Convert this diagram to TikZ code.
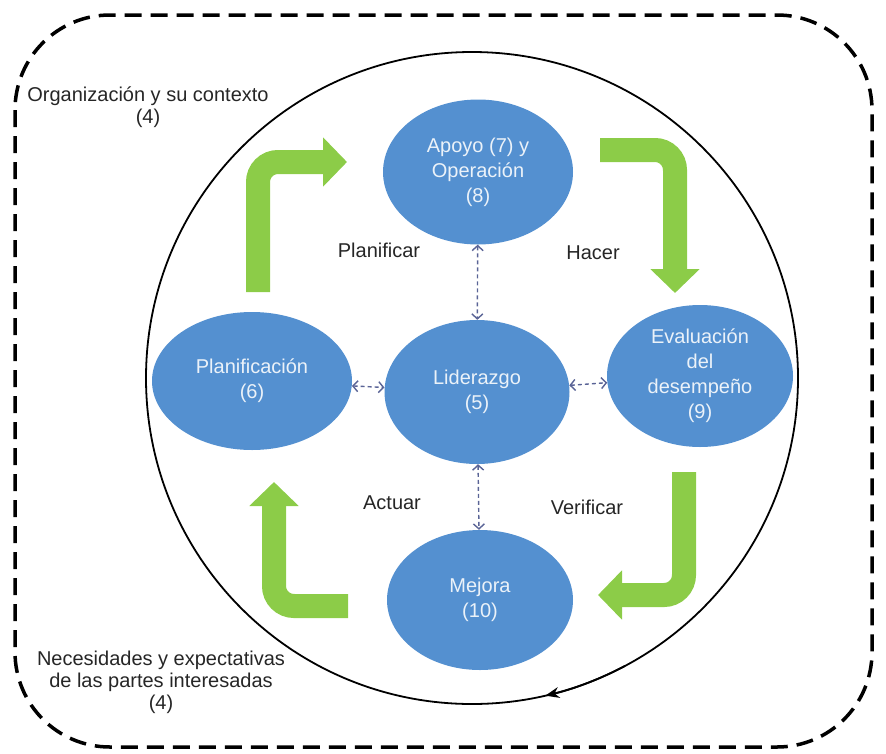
\documentclass[tikz,border=0pt]{standalone}
\usepackage{fontspec}
\setmainfont{Liberation Sans}
\usetikzlibrary{arrows.meta,shapes.geometric}
\definecolor{bubblue}{RGB}{84,144,208}
\definecolor{leafgreen}{RGB}{140,204,72}
\definecolor{linkgray}{RGB}{90,100,150}
\tikzset{
  bubble/.style={ellipse,fill=bubblue,text=white!88!bubblue,inner sep=0pt,align=center,
    font=\fontsize{20}{25}\selectfont},
  bigarrow/.style={draw=leafgreen,line width=24pt,rounded corners=20pt,
    -{Triangle[length=24pt,width=48pt]}},
  link/.style={draw=linkgray,line width=1.4pt,dash pattern=on 4pt off 3pt,
    {Straight Barb[length=5pt,width=11pt]}-{Straight Barb[length=5pt,width=11pt]}},
  tag/.style={text=black!85,align=center,font=\fontsize{20}{22}\selectfont}
}
\begin{document}
\begin{tikzpicture}[x=1pt,y=-1pt]
  \useasboundingbox (0,0) rectangle (886,753);
  \draw [line width=3.5pt,dash pattern=on 17pt off 9pt,rounded corners=95pt] (15,15) rectangle (872,747);
  \draw [line width=1.8pt] (472,378) circle [radius=326];
  \draw [line width=1.8pt,-{Stealth[length=14pt,width=11pt]}] (472,378) ++(62:326) arc [start angle=62,end angle=77,radius=326];

  \node [bubble,minimum width=190pt,minimum height=145pt] (apoyo) at (478,172) {Apoyo (7) y\\Operación\\(8)};
  \node [bubble,minimum width=185pt,minimum height=144pt] (lider) at (477,392) {Liderazgo\\(5)};
  \node [bubble,minimum width=200pt,minimum height=138pt] (plan) at (252,381) {Planificación\\(6)};
  \node [bubble,minimum width=186pt,minimum height=142pt] (eval) at (700,376) {Evaluación\\del\\desempeño\\(9)};
  \node [bubble,minimum width=186pt,minimum height=140pt] (mejora) at (480,600) {Mejora\\(10)};

  \draw [link] (apoyo) -- (lider);
  \draw [link] (lider) -- (mejora);
  \draw [link] (plan) -- (lider);
  \draw [link] (lider) -- (eval);

  \draw [bigarrow] (258,292) -- (258,162) -- (347,162);
  \draw [bigarrow] (600,150) -- (675,150) -- (675,293);
  \draw [bigarrow] (684,472) -- (684,595) -- (598,595);
  \draw [bigarrow] (348,606) -- (274,606) -- (274,482);

  \node [tag] (planificar) at (379,250) {Planificar};
  \node [tag] (hacer) at (593,253) {Hacer};
  \node [tag] (actuar) at (392,503) {Actuar};
  \node [tag] (verificar) at (587,507) {Verificar};
  \node [tag] (contexto) at (148,107) {Organización y su contexto\\(4)};
  \node [tag] (partes) at (161,682) {Necesidades y expectativas\\de las partes interesadas\\(4)};
\end{tikzpicture}
\end{document}
